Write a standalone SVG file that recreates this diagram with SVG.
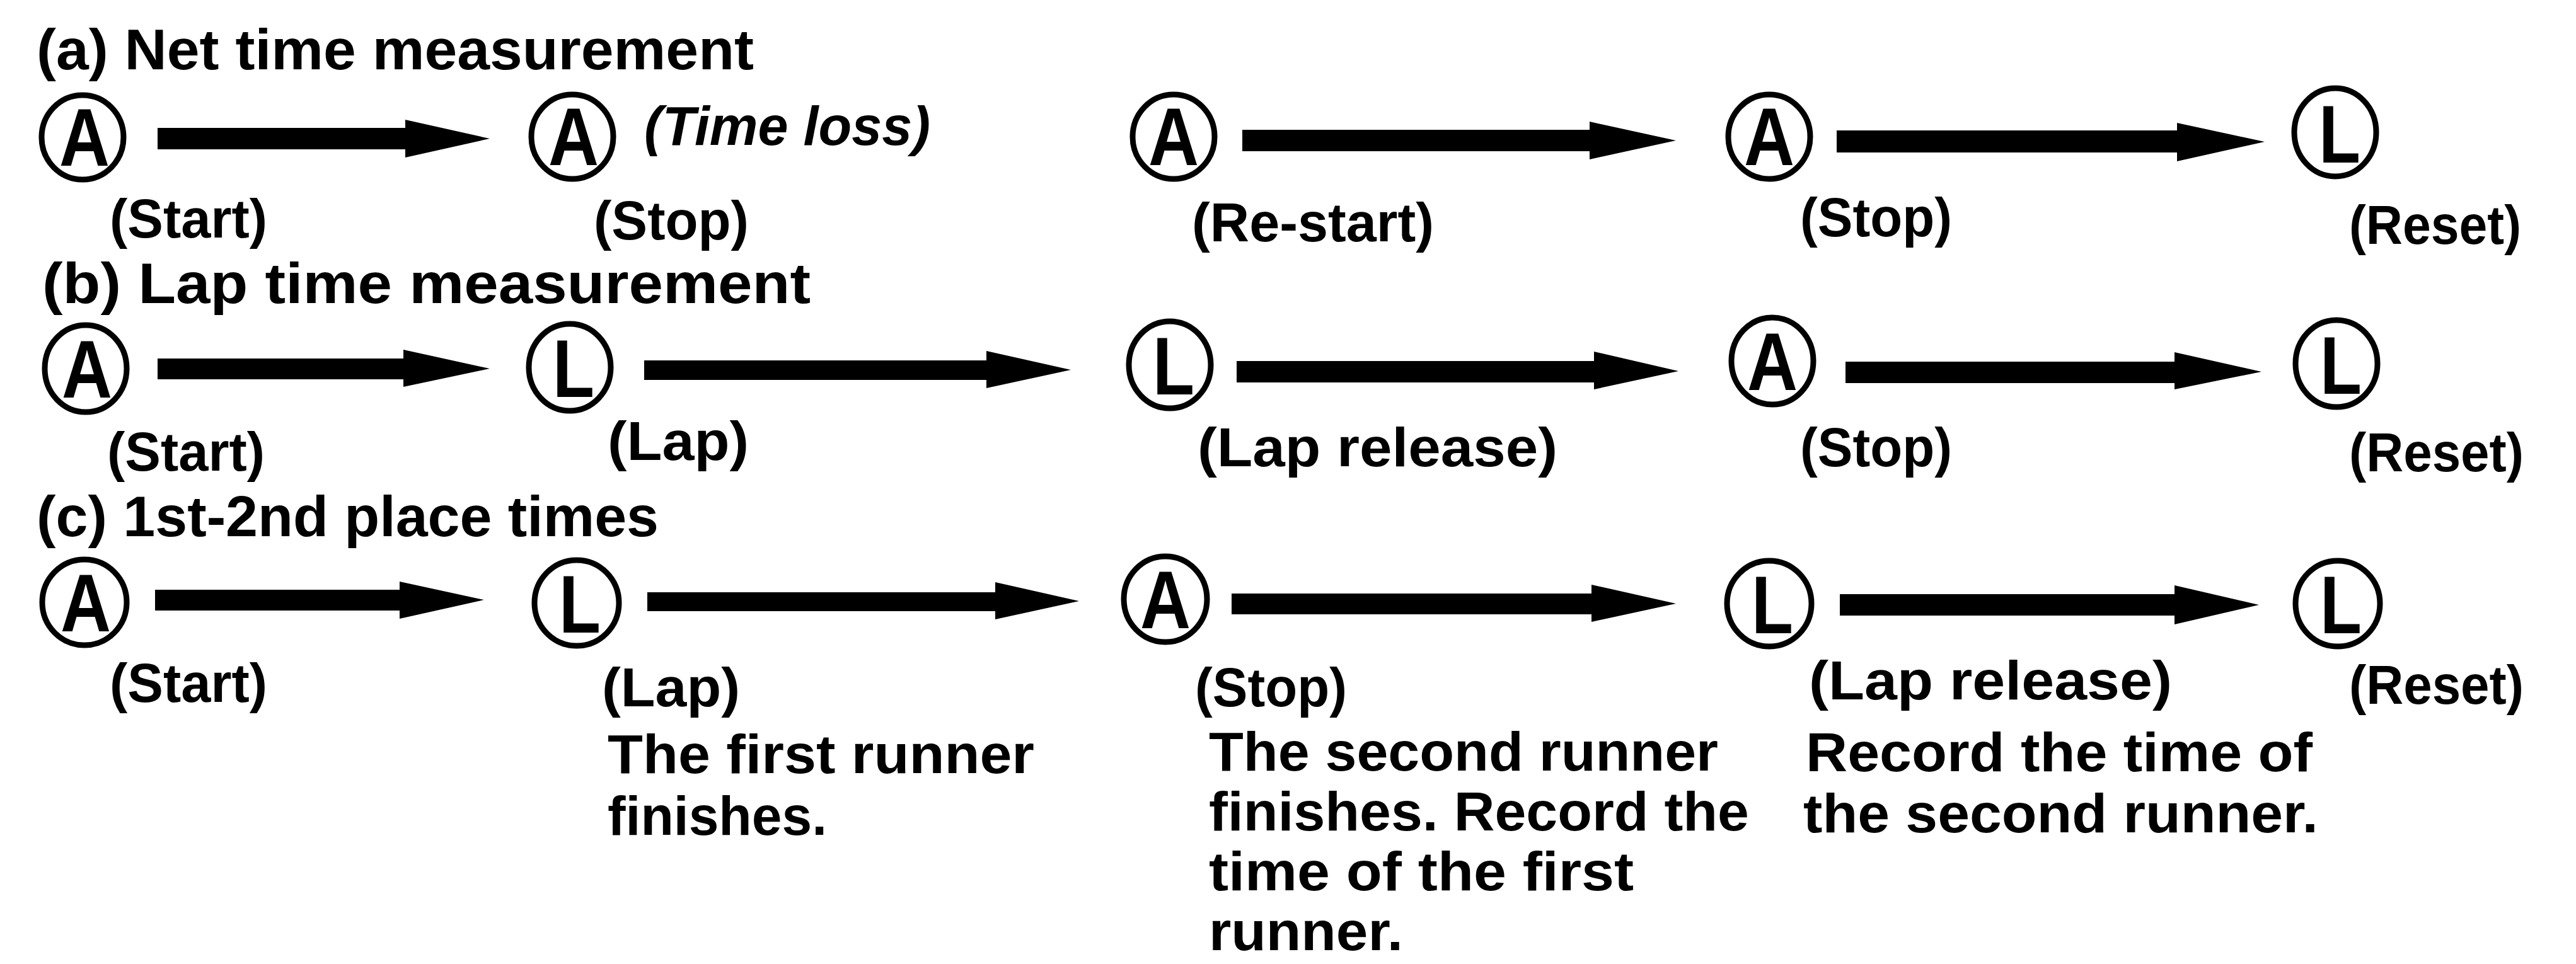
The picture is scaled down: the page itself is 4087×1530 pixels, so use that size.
<svg xmlns="http://www.w3.org/2000/svg" width="4087" height="1530" viewBox="0 0 4087 1530">
<style>
text{font-family:"Liberation Sans",Arial,sans-serif;font-weight:bold;fill:#000}
.t{font-size:88px}
.h{font-size:90px}
.it{font-style:italic}
.ltr{font-size:130px;text-anchor:middle}
.ring{fill:none;stroke:#000;stroke-width:9}
.arr{fill:#000;stroke:none}
</style>
<rect width="4087" height="1530" fill="#fff"/>
<g id="headers">
<text class="h" x="58" y="110" textLength="1138" lengthAdjust="spacingAndGlyphs">(a) Net time measurement</text>
<text class="h" x="67" y="481" textLength="1219" lengthAdjust="spacingAndGlyphs">(b) Lap time measurement</text>
<text class="h" x="58" y="851" textLength="987" lengthAdjust="spacingAndGlyphs">(c) 1st-2nd place times</text>
</g>
<g id="connectors">
<polygon class="arr" points="250,203 643,203 643,190 777,220 643,250 643,237 250,237"/>
<polygon class="arr" points="1971,206 2522,206 2522,193 2659,223 2522,253 2522,240 1971,240"/>
<polygon class="arr" points="2914,207 3454,207 3454,195 3593,225 3454,256 3454,242 2914,242"/>
<polygon class="arr" points="250,569 640,569 640,555 777,585 640,614 640,602 250,602"/>
<polygon class="arr" points="1022,572 1565,572 1565,557 1699,587 1565,616 1565,603 1022,603"/>
<polygon class="arr" points="1962,573 2529,573 2529,558 2663,589 2529,618 2529,607 1962,607"/>
<polygon class="arr" points="2928,574 3450,574 3450,559 3588,590 3450,618 3450,608 2928,608"/>
<polygon class="arr" points="246,936 634,936 634,923 768,952 634,982 634,969 246,969"/>
<polygon class="arr" points="1027,940 1579,940 1579,924 1712,954 1579,983 1579,970 1027,970"/>
<polygon class="arr" points="1954,942 2525,942 2525,928 2659,958 2525,987 2525,975 1954,975"/>
<polygon class="arr" points="2919,943 3450,943 3450,929 3584,960 3450,991 3450,977 2919,977"/>
</g>
<g id="a1"><ellipse class="ring" cx="131" cy="218" rx="65" ry="67"/><text class="ltr" x="134" y="263" textLength="80" lengthAdjust="spacingAndGlyphs">A</text><text class="t" x="174" y="377" textLength="250" lengthAdjust="spacingAndGlyphs">(Start)</text></g>
<g id="a2"><ellipse class="ring" cx="908" cy="217" rx="65" ry="67"/><text class="ltr" x="910" y="262" textLength="80" lengthAdjust="spacingAndGlyphs">A</text><text class="t it" x="1022" y="230" textLength="454" lengthAdjust="spacingAndGlyphs">(Time loss)</text><text class="t" x="942" y="380" textLength="246" lengthAdjust="spacingAndGlyphs">(Stop)</text></g>
<g id="a3"><ellipse class="ring" cx="1862" cy="217" rx="65" ry="67"/><text class="ltr" x="1862" y="262" textLength="80" lengthAdjust="spacingAndGlyphs">A</text><text class="t" x="1891" y="383" textLength="384" lengthAdjust="spacingAndGlyphs">(Re-start)</text></g>
<g id="a4"><ellipse class="ring" cx="2807" cy="217" rx="65" ry="67"/><text class="ltr" x="2807" y="262" textLength="80" lengthAdjust="spacingAndGlyphs">A</text><text class="t" x="2856" y="375" textLength="241" lengthAdjust="spacingAndGlyphs">(Stop)</text></g>
<g id="a5"><ellipse class="ring" cx="3705" cy="210" rx="65" ry="70"/><text class="ltr" x="3712" y="258" textLength="66" lengthAdjust="spacingAndGlyphs">L</text><text class="t" x="3727" y="387" textLength="273" lengthAdjust="spacingAndGlyphs">(Reset)</text></g>
<g id="b1"><ellipse class="ring" cx="136" cy="585" rx="65" ry="69"/><text class="ltr" x="138" y="631" textLength="80" lengthAdjust="spacingAndGlyphs">A</text><text class="t" x="170" y="747" textLength="250" lengthAdjust="spacingAndGlyphs">(Start)</text></g>
<g id="b2"><ellipse class="ring" cx="904" cy="583" rx="65" ry="69"/><text class="ltr" x="910" y="630" textLength="66" lengthAdjust="spacingAndGlyphs">L</text><text class="t" x="964" y="730" textLength="224" lengthAdjust="spacingAndGlyphs">(Lap)</text></g>
<g id="b3"><ellipse class="ring" cx="1856" cy="579" rx="65" ry="69"/><text class="ltr" x="1862" y="626" textLength="66" lengthAdjust="spacingAndGlyphs">L</text><text class="t" x="1900" y="740" textLength="571" lengthAdjust="spacingAndGlyphs">(Lap release)</text></g>
<g id="b4"><ellipse class="ring" cx="2812" cy="573" rx="65" ry="69"/><text class="ltr" x="2812" y="619" textLength="80" lengthAdjust="spacingAndGlyphs">A</text><text class="t" x="2856" y="740" textLength="241" lengthAdjust="spacingAndGlyphs">(Stop)</text></g>
<g id="b5"><ellipse class="ring" cx="3707" cy="577" rx="65" ry="69"/><text class="ltr" x="3714" y="625" textLength="66" lengthAdjust="spacingAndGlyphs">L</text><text class="t" x="3727" y="748" textLength="277" lengthAdjust="spacingAndGlyphs">(Reset)</text></g>
<g id="c1"><ellipse class="ring" cx="134" cy="956" rx="67" ry="68"/><text class="ltr" x="136" y="1002" textLength="80" lengthAdjust="spacingAndGlyphs">A</text><text class="t" x="174" y="1114" textLength="250" lengthAdjust="spacingAndGlyphs">(Start)</text></g>
<g id="c2"><ellipse class="ring" cx="915" cy="957" rx="67" ry="68"/><text class="ltr" x="920" y="1004" textLength="66" lengthAdjust="spacingAndGlyphs">L</text><text class="t" x="955" y="1121" textLength="219" lengthAdjust="spacingAndGlyphs">(Lap)</text><text class="t" x="964" y="1227" textLength="677" lengthAdjust="spacingAndGlyphs">The first runner</text><text class="t" x="964" y="1325" textLength="348" lengthAdjust="spacingAndGlyphs">finishes.</text></g>
<g id="c3"><ellipse class="ring" cx="1849" cy="951" rx="66" ry="68"/><text class="ltr" x="1849" y="997" textLength="80" lengthAdjust="spacingAndGlyphs">A</text><text class="t" x="1896" y="1121" textLength="241" lengthAdjust="spacingAndGlyphs">(Stop)</text><text class="t" x="1918" y="1223" textLength="808" lengthAdjust="spacingAndGlyphs">The second runner</text><text class="t" x="1918" y="1318" textLength="857" lengthAdjust="spacingAndGlyphs">finishes. Record the</text><text class="t" x="1918" y="1413" textLength="674" lengthAdjust="spacingAndGlyphs">time of the first</text><text class="t" x="1918" y="1508" textLength="308" lengthAdjust="spacingAndGlyphs">runner.</text></g>
<g id="c4"><ellipse class="ring" cx="2807" cy="958" rx="67" ry="68"/><text class="ltr" x="2812" y="1005" textLength="66" lengthAdjust="spacingAndGlyphs">L</text><text class="t" x="2870" y="1110" textLength="576" lengthAdjust="spacingAndGlyphs">(Lap release)</text><text class="t" x="2865" y="1224" textLength="804" lengthAdjust="spacingAndGlyphs">Record the time of</text><text class="t" x="2861" y="1321" textLength="817" lengthAdjust="spacingAndGlyphs">the second runner.</text></g>
<g id="c5"><ellipse class="ring" cx="3709" cy="958" rx="67" ry="68"/><text class="ltr" x="3714" y="1005" textLength="66" lengthAdjust="spacingAndGlyphs">L</text><text class="t" x="3727" y="1117" textLength="277" lengthAdjust="spacingAndGlyphs">(Reset)</text></g>
</svg>
